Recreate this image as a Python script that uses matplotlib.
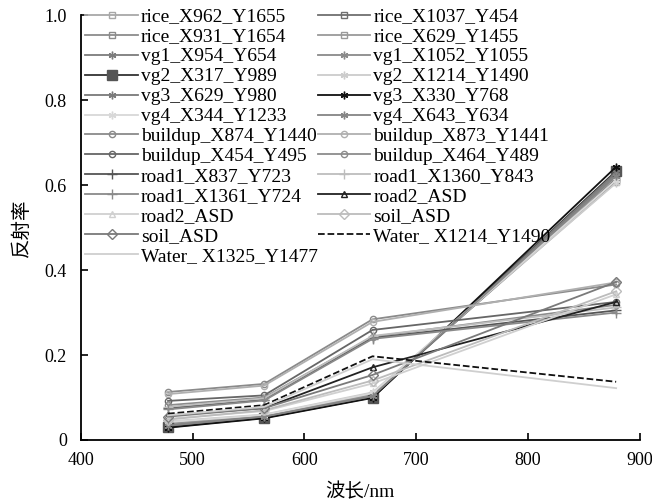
import matplotlib.pyplot as plt
from matplotlib.ticker import FuncFormatter

plt.rcParams['font.family'] = ['Liberation Serif', 'Noto Sans CJK SC']
plt.rcParams['font.size'] = 13

wavelength = [478, 564, 661, 879]

names = ['rice_X962_Y1655', 'rice_X1037_Y454', 'rice_X931_Y1654', 'rice_X629_Y1455',
         'vg1_X954_Y654', 'vg1_X1052_Y1055', 'vg2_X317_Y989', 'vg2_X1214_Y1490',
         'vg3_X629_Y980', 'vg3_X330_Y768', 'vg4_X344_Y1233', 'vg4_X643_Y634',
         'buildup_X874_Y1440', 'buildup_X873_Y1441', 'buildup_X454_Y495', 'buildup_X464_Y489',
         'road1_X837_Y723', 'road1_X1360_Y843', 'road1_X1361_Y724', 'road2_ASD',
         'road2_ASD', 'soil_ASD', 'soil_ASD', 'Water_ X1214_Y1490', 'Water_ X1325_Y1477']

refl = [
    [0.040, 0.058, 0.108, 0.607],
    [0.035, 0.055, 0.103, 0.615],
    [0.038, 0.057, 0.106, 0.610],
    [0.036, 0.054, 0.104, 0.620],
    [0.034, 0.055, 0.102, 0.625],
    [0.033, 0.053, 0.101, 0.628],
    [0.030, 0.052, 0.100, 0.633],
    [0.044, 0.060, 0.112, 0.605],
    [0.032, 0.054, 0.101, 0.630],
    [0.029, 0.051, 0.099, 0.643],
    [0.042, 0.059, 0.110, 0.612],
    [0.034, 0.055, 0.103, 0.622],
    [0.113, 0.132, 0.284, 0.366],
    [0.108, 0.128, 0.278, 0.371],
    [0.092, 0.105, 0.259, 0.325],
    [0.082, 0.100, 0.243, 0.318],
    [0.075, 0.095, 0.240, 0.305],
    [0.078, 0.098, 0.245, 0.312],
    [0.072, 0.093, 0.238, 0.300],
    [0.058, 0.075, 0.171, 0.325],
    [0.050, 0.068, 0.133, 0.343],
    [0.048, 0.070, 0.140, 0.350],
    [0.055, 0.075, 0.153, 0.372],
    [0.062, 0.082, 0.197, 0.137],
    [0.058, 0.078, 0.190, 0.122],
]

ast = (6, 2, 0)  # asterisk marker
styles = [
    ('#a8a8a8', 's', '-', 4), ('#707070', 's', '-', 4), ('#8c8c8c', 's', '-', 4), ('#9a9a9a', 's', '-', 4),
    ('#7c7c7c', ast, '-', 5.5), ('#8a8a8a', ast, '-', 5.5), ('#333333', 's', '-', 7.5), ('#cccccc', ast, '-', 5.5),
    ('#7a7a7a', ast, '-', 5.5), ('#111111', ast, '-', 5.5), ('#d8d8d8', ast, '-', 5.5), ('#858585', ast, '-', 5.5),
    ('#8a8a8a', 'o', '-', 4.5), ('#b0b0b0', 'o', '-', 4.5), ('#666666', 'o', '-', 4.5), ('#8c8c8c', 'o', '-', 4.5),
    ('#555555', '+', '-', 6.5), ('#bdbdbd', '+', '-', 6.5), ('#8a8a8a', '+', '-', 6.5), ('#222222', '^', '-', 5),
    ('#d0d0d0', '^', '-', 5), ('#bcbcbc', 'D', '-', 5), ('#7a7a7a', 'D', '-', 5), ('#111111', None, '--', 0),
    ('#cfcfcf', None, '-', 0),
]

fig = plt.figure(figsize=(6.52, 5.04), dpi=100)
ax = fig.add_axes([0.124, 0.127, 0.857, 0.843])

handles = []
for name, vals, (c, m, ls, ms) in zip(names, refl, styles):
    if m == 's' and ms > 6:
        h, = ax.plot(wavelength, vals, color=c, ls=ls, lw=1.3, marker=m, ms=ms, mfc='#555555', mec='#555555')
    else:
        h, = ax.plot(wavelength, vals, color=c, ls=ls, lw=1.3, marker=m, ms=ms, mfc='none', mec=c, mew=1.0)
    handles.append(h)

ax.set_xlim(400, 900)
ax.set_ylim(0, 1.0)
ax.set_xticks([400, 500, 600, 700, 800, 900])
ax.set_yticks([0, 0.2, 0.4, 0.6, 0.8, 1.0])
ax.yaxis.set_major_formatter(FuncFormatter(lambda v, p: '0' if v == 0 else f'{v:.1f}'))
ax.tick_params(direction='in', length=5, width=1.2, labelsize=13)
ax.tick_params(axis='y', pad=10)
ax.tick_params(axis='x', pad=9)
for s in ['top', 'right']:
    ax.spines[s].set_visible(False)
for s in ['left', 'bottom']:
    ax.spines[s].set_linewidth(1.3)

ax.set_xlabel('波长/nm', fontsize=14, labelpad=10)
ax.set_ylabel('反射率', fontsize=14, labelpad=10)

# legend: fill column-wise so it reads like the row-major original
order = list(range(0, 25, 2)) + list(range(1, 25, 2))
fig.legend([handles[i] for i in order], [names[i] for i in order],
           loc='upper left', bbox_to_anchor=(0.128, 0.988), ncol=2, frameon=False,
           fontsize=14, handlelength=2.7, handletextpad=0.15, columnspacing=0.0,
           labelspacing=0.12, borderpad=0.1, borderaxespad=0)

fig.savefig('out.png', dpi=100)
